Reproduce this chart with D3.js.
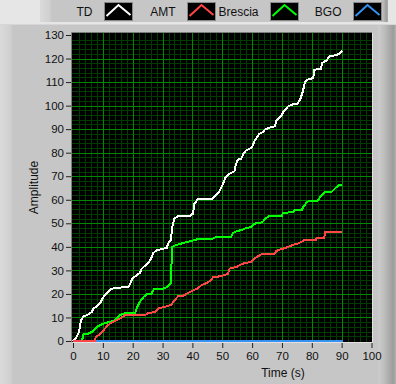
<!DOCTYPE html>
<html>
<head>
<meta charset="utf-8">
<script src="https://cdn.jsdelivr.net/npm/d3@7/dist/d3.min.js"></script>
<style>
  html, body { margin: 0; padding: 0; background: #e6e6e6; overflow: hidden; }
  svg { display: block; }
  text { font-family: "Liberation Sans", Arial, sans-serif; fill: #111; }
</style>
</head>
<body>
<svg id="chart" width="396" height="384"></svg>
<script>
// ---- data -------------------------------------------------------------
const seriesNames  = ["TD", "AMT", "Brescia", "BGO"];
const seriesColors = ["#ffffff", "#ff4646", "#00ff00", "#3592f0"];

const tdTime  = [0, 1.2, 2.0, 2.7, 3.5, 4.6, 6.3, 6.8, 7.9, 9.0, 10.2, 11.3, 12.4, 13.5, 15.7, 18.5, 19.1, 19.9, 21.3, 22.4, 23.0, 24.3, 25.4, 26.3, 26.9, 28.0, 29.7, 31.4, 31.9, 32.8, 33.3, 34.0, 35.2, 39.1, 40.2, 40.7, 41.8, 46.3, 47.4, 48.9, 49.7, 50.5, 51.1, 52.5, 54.1, 54.5, 55.2, 56.4, 57.1, 58.0, 59.2, 60.0, 60.8, 61.6, 62.5, 63.4, 64.3, 66.0, 67.6, 68.2, 69.9, 70.4, 72.1, 73.2, 75.2, 76.0, 76.6, 77.1, 77.7, 78.8, 80.5, 80.8, 81.6, 83.0, 83.5, 84.9, 86.0, 88.3, 89.4, 90.2];
const tdValue = [0, 1.7, 3.8, 8.8, 10.5, 10.9, 12.3, 13.8, 14.7, 15.9, 18.7, 20.1, 21.8, 22.3, 22.7, 22.9, 24.1, 26.5, 27.9, 28.9, 30.7, 32.2, 33.6, 35.4, 37.4, 38.5, 39.1, 39.5, 41.4, 43.0, 48.7, 52.0, 53.1, 53.1, 54.1, 58.4, 60.2, 60.2, 61.2, 63.3, 65.2, 67.5, 69.4, 71.1, 72.1, 74.6, 77.0, 77.5, 79.6, 81.0, 81.7, 82.4, 85.0, 86.4, 88.1, 88.6, 89.8, 90.7, 91.2, 93.8, 95.9, 97.3, 99.7, 100.4, 100.8, 102.3, 104.4, 106.5, 110.0, 111.2, 111.7, 115.0, 115.4, 115.7, 118.1, 119.2, 121.1, 121.4, 122.3, 123.2];

const amtTime  = [0, 7.4, 7.6, 9.0, 10.2, 11.3, 12.4, 13.5, 14.6, 15.7, 16.5, 17.4, 24.1, 25.2, 27.5, 28.6, 30.3, 31.4, 33.0, 34.0, 35.2, 37.4, 38.5, 40.2, 41.8, 43.0, 44.7, 46.3, 46.9, 49.7, 51.9, 52.5, 54.7, 55.8, 57.5, 59.7, 60.8, 62.5, 63.6, 67.5, 68.1, 69.2, 71.0, 72.5, 74.0, 75.5, 77.0, 77.7, 81.4, 81.7, 84.2, 84.4, 90.2];
const amtValue = [0, 0, 1.7, 2.8, 4.5, 6.2, 7.4, 8.1, 8.8, 9.5, 10.2, 10.9, 10.9, 11.9, 12.3, 13.8, 14.4, 14.7, 15.5, 17.3, 19.0, 19.4, 20.4, 21.5, 22.3, 23.7, 24.6, 25.8, 27.2, 27.5, 28.6, 30.8, 31.4, 32.2, 33.1, 33.6, 35.0, 36.4, 37.1, 37.1, 38.2, 38.8, 39.5, 40.2, 41.0, 41.5, 42.4, 43.1, 43.1, 43.9, 43.9, 46.4, 46.4];

const brTime  = [0, 3.0, 3.5, 5.1, 6.8, 7.9, 9.6, 10.7, 12.4, 13.5, 14.6, 15.7, 17.4, 20.8, 21.3, 22.4, 23.6, 24.7, 26.3, 27.2, 30.3, 31.4, 32.5, 32.9, 33.1, 34.0, 35.7, 38.0, 41.3, 41.8, 46.9, 48.0, 53.0, 53.6, 54.7, 56.9, 58.0, 59.7, 60.3, 61.4, 63.4, 64.5, 65.6, 69.9, 70.4, 73.8, 74.3, 76.6, 77.1, 78.2, 78.8, 81.6, 82.7, 83.3, 84.4, 86.6, 87.7, 88.9, 90.2];
const brValue = [0, 0, 2.8, 3.1, 4.2, 5.9, 7.1, 7.6, 8.1, 8.5, 9.5, 10.9, 11.9, 11.9, 13.8, 16.6, 18.7, 19.8, 20.1, 22.3, 22.3, 22.9, 24.1, 25.0, 39.9, 40.5, 41.2, 42.0, 43.1, 43.5, 43.5, 44.2, 44.2, 45.9, 46.6, 47.3, 48.0, 48.4, 49.4, 50.1, 50.4, 52.0, 53.1, 53.1, 54.4, 54.8, 55.5, 55.5, 56.9, 58.8, 59.3, 59.3, 60.9, 61.9, 63.3, 63.3, 64.7, 66.1, 66.4];

const bgoTime  = [0, 90.4];
const bgoValue = [0, 0];

const xTicks = [0, 10, 20, 30, 40, 50, 60, 70, 80, 90, 100];
const yTicks = [0, 10, 20, 30, 40, 50, 60, 70, 80, 90, 100, 110, 120, 130];
const xLabel = "Time (s)";
const yLabel = "Amplitude";

// ---- frame ------------------------------------------------------------
const svg = d3.select("#chart");
const defs = svg.append("defs");

const edge = defs.append("linearGradient").attr("id", "rightEdge")
  .attr("x1", 0).attr("x2", 1).attr("y1", 0).attr("y2", 0);
edge.append("stop").attr("offset", "0%").attr("stop-color", "#cdcdcd");
edge.append("stop").attr("offset", "35%").attr("stop-color", "#bdbdbd");
edge.append("stop").attr("offset", "85%").attr("stop-color", "#9c9c9c");
edge.append("stop").attr("offset", "100%").attr("stop-color", "#b2b2b2");

const leftEdge = defs.append("linearGradient").attr("id", "leftEdge")
  .attr("x1", 0).attr("x2", 1).attr("y1", 0).attr("y2", 0);
leftEdge.append("stop").attr("offset", "0%").attr("stop-color", "#dadada");
leftEdge.append("stop").attr("offset", "80%").attr("stop-color", "#d0d0d0");
leftEdge.append("stop").attr("offset", "100%").attr("stop-color", "#c6c6c6");

svg.append("rect").attr("width", 396).attr("height", 384).attr("fill", "#e6e6e6");

// legend strip
svg.append("rect").attr("x", 40).attr("y", 0).attr("width", 348).attr("height", 22).attr("fill", "#c6c6c6");
svg.append("rect").attr("x", 40).attr("y", 0).attr("width", 12).attr("height", 22).attr("fill", "url(#leftEdge)");
svg.append("rect").attr("x", 380).attr("y", 0).attr("width", 8).attr("height", 22).attr("fill", "url(#rightEdge)");

// main panel
svg.append("rect").attr("x", 0).attr("y", 24).attr("width", 396).attr("height", 360).attr("fill", "#c6c6c6");
svg.append("rect").attr("x", 0).attr("y", 24).attr("width", 13).attr("height", 360).attr("fill", "url(#leftEdge)");
svg.append("rect").attr("x", 378).attr("y", 24).attr("width", 18).attr("height", 360).attr("fill", "url(#rightEdge)");
svg.append("line").attr("x1", 0).attr("x2", 396).attr("y1", 24.5).attr("y2", 24.5).attr("stroke", "#d6d6d6");

// ---- scales -----------------------------------------------------------
const plot = { left: 72, top: 33, right: 372, bottom: 342 };
const xs = d3.scaleLinear().domain([0, 100]).range([73, 371.5]);
const ys = d3.scaleLinear().domain([0, 130]).range([341, 35]);
const crisp = v => Math.round(v) + 0.5;

// plot background
svg.append("rect")
  .attr("x", plot.left).attr("y", plot.top)
  .attr("width", plot.right - plot.left).attr("height", plot.bottom - plot.top)
  .attr("fill", "#000");

// grid: minor every 2, major every 10
const grid = svg.append("g").attr("shape-rendering", "crispEdges");
const minorX = d3.range(2, 100, 2).filter(v => v % 10 !== 0);
const minorY = d3.range(2, 130, 2).filter(v => v % 10 !== 0);
grid.selectAll(".mx").data(minorX).join("line")
  .attr("x1", d => crisp(xs(d))).attr("x2", d => crisp(xs(d)))
  .attr("y1", plot.top).attr("y2", plot.bottom)
  .attr("stroke", "#003c00");
grid.selectAll(".my").data(minorY).join("line")
  .attr("y1", d => crisp(ys(d))).attr("y2", d => crisp(ys(d)))
  .attr("x1", plot.left).attr("x2", plot.right)
  .attr("stroke", "#003c00");
grid.selectAll(".Mx").data(xTicks.filter(v => v > 0 && v < 100)).join("line")
  .attr("x1", d => crisp(xs(d))).attr("x2", d => crisp(xs(d)))
  .attr("y1", plot.top).attr("y2", plot.bottom)
  .attr("stroke", "#008800");
grid.selectAll(".My").data(yTicks.filter(v => v > 0 && v < 130)).join("line")
  .attr("y1", d => crisp(ys(d))).attr("y2", d => crisp(ys(d)))
  .attr("x1", plot.left).attr("x2", plot.right)
  .attr("stroke", "#008800");

// inset border around the plot
svg.append("path")
  .attr("d", `M${plot.left - 0.5},${plot.bottom}V${plot.top - 0.5}H${plot.right}`)
  .attr("fill", "none").attr("stroke", "#7c7c7c");
svg.append("path")
  .attr("d", `M${plot.left},${plot.bottom + 0.5}H${plot.right + 0.5}V${plot.top}`)
  .attr("fill", "none").attr("stroke", "#e2e2e2");

// ---- series -----------------------------------------------------------
svg.append("clipPath").attr("id", "plotClip").append("rect")
  .attr("x", plot.left).attr("y", plot.top)
  .attr("width", plot.right - plot.left).attr("height", plot.bottom - plot.top);

const line = d3.line().x(d => xs(d[0])).y(d => ys(d[1]));
const zip = (t, v) => t.map((x, i) => [x, v[i]]);
const series = [
  { data: zip(bgoTime, bgoValue), color: seriesColors[3], w: 3 },
  { data: zip(tdTime, tdValue),   color: seriesColors[0], w: 2 },
  { data: zip(brTime, brValue),   color: seriesColors[2], w: 2 },
  { data: zip(amtTime, amtValue), color: seriesColors[1], w: 2 }
];
svg.append("g").attr("clip-path", "url(#plotClip)")
  .selectAll("path").data(series).join("path")
  .attr("d", d => line(d.data))
  .attr("fill", "none")
  .attr("stroke", d => d.color)
  .attr("stroke-width", d => d.w)
  .attr("stroke-linejoin", "miter")
  .attr("stroke-linecap", "butt")
  .attr("shape-rendering", "crispEdges");

// ---- axes -------------------------------------------------------------
const yAxis = svg.append("g").attr("transform", `translate(${plot.left - 1},0)`)
  .call(d3.axisLeft(ys).tickValues(yTicks).tickSize(5).tickPadding(2).tickFormat(d3.format("d")));
const xAxis = svg.append("g").attr("transform", `translate(0,${plot.bottom + 1})`)
  .call(d3.axisBottom(xs).tickValues(xTicks).tickSize(5).tickPadding(4).tickFormat(d3.format("d")));
[yAxis, xAxis].forEach(a => {
  a.select(".domain").remove();
  a.selectAll(".tick line").attr("stroke", "#222");
  a.selectAll(".tick text").attr("font-family", '"Liberation Sans", Arial, sans-serif')
    .attr("font-size", 11.5).attr("fill", "#111");
});

svg.append("text")
  .attr("transform", "translate(38,187.5) rotate(-90)")
  .attr("text-anchor", "middle")
  .attr("font-size", 12)
  .text(yLabel);
svg.append("text")
  .attr("x", 283).attr("y", 377)
  .attr("text-anchor", "middle")
  .attr("font-size", 12)
  .text(xLabel);

// ---- legend -----------------------------------------------------------
const legend = svg.append("g");
seriesNames.forEach((name, i) => {
  const bx = 104.5 + i * 83;
  legend.append("text")
    .attr("x", bx - 12).attr("y", 15.5)
    .attr("text-anchor", "end")
    .attr("font-size", 12)
    .text(name);
  legend.append("rect")
    .attr("x", bx).attr("y", 2.5).attr("width", 28).attr("height", 18)
    .attr("fill", "#000").attr("stroke", "#8a8a8a");
  legend.append("polyline")
    .attr("points", [[bx + 2, 16], [bx + 14, 5], [bx + 26, 15]].map(p => p.join(",")).join(" "))
    .attr("fill", "none")
    .attr("stroke", seriesColors[i])
    .attr("stroke-width", 2);
});
</script>
</body>
</html>
